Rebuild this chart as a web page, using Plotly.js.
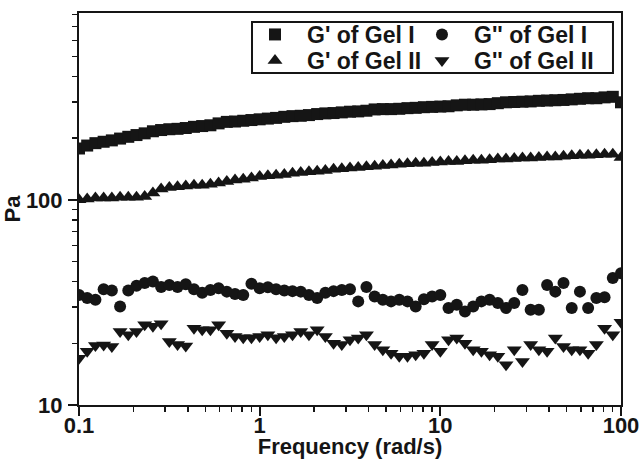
<!DOCTYPE html>
<html>
<head>
<meta charset="utf-8">
<script src="https://cdn.plot.ly/plotly-3.0.1.min.js"></script>
<style>html,body{margin:0;padding:0;background:#fff;}#chart{width:639px;height:459px;}</style>
</head>
<body>
<div id="chart"></div>
<script>
// Angular frequency (rad/s)
const freq = [
  0.1, 0.111, 0.1233, 0.1369, 0.152, 0.1688, 0.1874, 0.2081, 0.231, 0.2565, 0.2848,
  0.3162, 0.3511, 0.3899, 0.4329, 0.4806, 0.5337, 0.5925, 0.6579, 0.7305, 0.8111, 0.9006,
  1, 1.11, 1.233, 1.369, 1.52, 1.688, 1.874, 2.081, 2.31, 2.565, 2.848,
  3.162, 3.511, 3.899, 4.329, 4.806, 5.337, 5.925, 6.579, 7.305, 8.111, 9.006,
  10, 11.1, 12.33, 13.69, 15.2, 16.88, 18.74, 20.81, 23.1, 25.65, 28.48,
  31.62, 35.11, 38.99, 43.29, 48.06, 53.37, 59.25, 65.79, 73.05, 81.11, 90.06,
  100
];
// G' of Gel I (Pa)
const gp1 = [
  178, 184, 189, 192, 195, 199, 203, 207, 211, 216, 219,
  221, 222, 224, 227, 229, 231, 236, 240, 241, 243, 245,
  247, 249, 251, 254, 256, 257, 259, 262, 264, 265, 267,
  269, 270, 272, 276, 277, 277, 278, 280, 281, 283, 284,
  285, 286, 289, 291, 291, 292, 293, 296, 299, 300, 301,
  302, 304, 305, 306, 307, 309, 311, 313, 313, 316, 318,
  299
];
// G'' of Gel I (Pa)
const gpp1 = [
  34.4, 33.2, 32.6, 36.7, 36.2, 30.2, 36.2, 38.1, 39.3, 40.0, 37.6,
  38.5, 37.6, 38.8, 36.7, 35.3, 36.4, 37.1, 35.7, 34.8, 34.4, 39.0,
  37.1, 37.5, 36.7, 36.2, 35.9, 35.7, 34.4, 33.2, 35.3, 35.9, 36.4,
  36.7, 32.0, 37.6, 33.8, 32.6, 32.0, 32.6, 32.0, 30.2, 32.8, 33.8,
  34.4, 29.7, 30.8, 28.6, 30.2, 32.0, 32.6, 31.4, 29.7, 31.4, 36.4,
  29.1, 29.1, 38.5, 35.7, 39.3, 29.7, 35.7, 29.7, 33.2, 33.5, 41.6,
  43.9
];
// G' of Gel II (Pa)
const gp2 = [
  100, 101, 102, 102, 102, 103, 103, 103, 104, 108, 113,
  115, 116, 117, 118, 118, 119, 121, 123, 125, 126, 128,
  130, 131, 132, 133, 135, 136, 137, 138, 139, 141, 142,
  143, 144, 145, 146, 147, 148, 149, 150, 151, 151, 152,
  153, 154, 154, 155, 156, 156, 157, 158, 158, 159, 160,
  160, 161, 162, 162, 163, 164, 165, 165, 166, 167, 167,
  161
];
// G'' of Gel II (Pa)
const gpp2 = [
  16.9, 18.3, 19.5, 19.6, 19.3, 22.8, 22.0, 22.8, 24.6, 24.2, 24.9,
  20.4, 19.7, 19.4, 23.7, 23.3, 23.3, 24.6, 22.4, 21.6, 21.3, 21.3,
  21.6, 22.0, 21.3, 21.6, 22.0, 22.8, 22.0, 23.3, 21.6, 20.0, 19.7,
  20.8, 21.2, 22.0, 19.7, 18.6, 17.9, 17.3, 17.3, 17.6, 17.9, 19.7,
  18.3, 20.8, 21.2, 20.0, 18.6, 18.3, 17.6, 17.3, 15.7, 18.6, 16.3,
  19.7, 18.6, 18.3, 21.2, 19.3, 18.6, 18.6, 17.9, 19.7, 23.7, 22.0,
  25.3
];
const names = ["G' of Gel I", "G'' of Gel I", "G' of Gel II", "G'' of Gel II"];
const symbols = ['square', 'circle', 'triangle-up', 'triangle-down'];
const sizes = [12, 12, 13, 13];
const series = [gp1, gpp1, gp2, gpp2];
const legendIds = ['legend', 'legend2', 'legend3', 'legend4'];

const ink = '#151515';
const fontFam = 'Liberation Sans, Arial, Helvetica, sans-serif';

const traces = series.map((ys, k) => ({
  x: freq, y: ys, name: names[k], type: 'scatter', mode: 'markers',
  legend: legendIds[k],
  marker: {symbol: symbols[k], size: sizes[k], color: ink, line: {width: 0}}
}));

const axisCommon = {
  type: 'log', showgrid: false, zeroline: false,
  showline: true, linecolor: ink, linewidth: 2, mirror: true,
  ticks: 'outside', ticklen: 9, tickwidth: 2, tickcolor: ink,
  dtick: 1, ticklabeloverflow: 'allow',
  tickfont: {family: fontFam, size: 22, color: ink, weight: 'bold'},
  minor: {ticks: 'outside', ticklen: 5, tickwidth: 1.5, tickcolor: ink, dtick: 'D1', showgrid: false}
};

function legendAt(x, y) {
  return {
    x: x, y: y, xanchor: 'left', yanchor: 'top', orientation: 'v',
    borderwidth: 0, bgcolor: 'rgba(0,0,0,0)', itemwidth: 54,
    font: {family: fontFam, size: 23, color: ink, weight: 'bold'}
  };
}

const layout = {
  width: 639, height: 459,
  margin: {l: 79, r: 18, t: 13, b: 54},
  paper_bgcolor: '#fff', plot_bgcolor: '#fff',
  showlegend: true,
  xaxis: Object.assign({}, axisCommon, {
    range: [-1, 2],
    ticklabelstandoff: -9,
    title: {text: 'Frequency (rad/s)', font: {family: fontFam, size: 22, color: ink, weight: 'bold'}, standoff: 10}
  }),
  yaxis: Object.assign({}, axisCommon, {
    range: [1, 2.911],
    ticklabelstandoff: 1,
    title: {text: 'Pa', font: {family: fontFam, size: 22, color: ink, weight: 'bold'}, standoff: 0}
  }),
  legend: legendAt(0.3026, 1.0),
  legend2: legendAt(0.6107, 1.0),
  legend3: legendAt(0.3026, 0.9337),
  legend4: legendAt(0.6107, 0.9337),
  shapes: [{
    type: 'rect', xref: 'paper', yref: 'paper',
    x0: 0.3192, x1: 0.9852, y0: 0.847, y1: 0.977,
    line: {color: ink, width: 2}, fillcolor: 'rgba(0,0,0,0)', layer: 'above'
  }]
};

Plotly.newPlot('chart', traces, layout, {displayModeBar: false, staticPlot: true});
</script>
</body>
</html>
